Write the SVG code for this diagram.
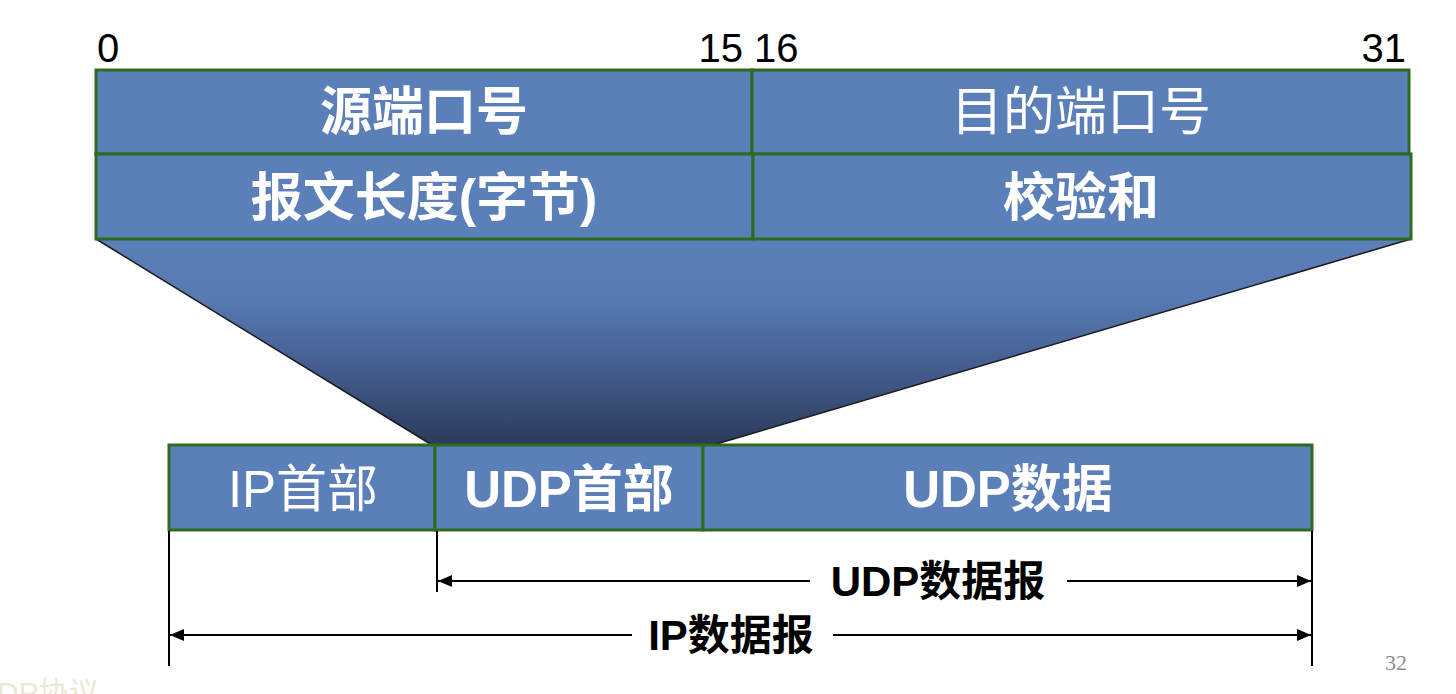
<svg xmlns="http://www.w3.org/2000/svg" width="1456" height="694" viewBox="0 0 1456 694">
<style>
.box{fill:#5b7fb9;stroke:#2f6a1e;stroke-width:3}
.t{font-family:"Liberation Sans","Noto Sans CJK SC",sans-serif;fill:#fff;text-anchor:middle;font-size:52px}
.s{font-size:51px}
.b{font-weight:bold}
.num{font-family:"Liberation Sans",sans-serif;font-size:40px;fill:#000}
.lbl{font-family:"Liberation Sans","Noto Sans CJK SC",sans-serif;font-size:42px;font-weight:bold;fill:#000;text-anchor:middle}
.ln{stroke:#000;stroke-width:2;fill:none}
</style>
<defs>
<linearGradient id="g" x1="0" y1="239" x2="0" y2="445" gradientUnits="userSpaceOnUse">
<stop offset="0" stop-color="#5b7fb9"/>
<stop offset="0.3" stop-color="#5679b1"/>
<stop offset="0.6" stop-color="#465f91"/>
<stop offset="1" stop-color="#2b3a59"/>
</linearGradient>
<marker id="ah" markerWidth="14" markerHeight="12" refX="14" refY="6" orient="auto-start-reverse" markerUnits="userSpaceOnUse">
<path d="M0,0 L14,6 L0,12 Z" fill="#000"/>
</marker>
</defs>

<g id="bit-numbers">
<text class="num" x="97" y="62">0</text>
<text class="num" x="743" y="62" text-anchor="end">15</text>
<text class="num" x="754" y="62">16</text>
<text class="num" x="1406" y="62" text-anchor="end">31</text>
</g>

<g id="expansion">
<polygon points="96,239 1411,239 713,445 432,445" fill="url(#g)"/>
<line x1="96" y1="239" x2="432" y2="445" stroke="#1a1a1a" stroke-width="1.5"/>
<line x1="1411" y1="239" x2="713" y2="445" stroke="#1a1a1a" stroke-width="1.5"/>
</g>

<g id="src-port">
<rect class="box" x="96" y="70" width="656" height="84"/>
<text class="t b" x="424" y="130">源端口号</text>
</g>
<g id="dst-port">
<rect class="box" x="752" y="70" width="657" height="84"/>
<text class="t" x="1081" y="130">目的端口号</text>
</g>
<g id="length">
<rect class="box" x="96" y="154" width="657" height="85"/>
<text class="t b" x="424" y="216">报文长度(字节)</text>
</g>
<g id="checksum">
<rect class="box" x="753" y="154" width="658" height="85"/>
<text class="t b" x="1081" y="216">校验和</text>
</g>

<g id="ip-header">
<rect class="box" x="169" y="445" width="266" height="85"/>
<text class="t s" x="303" y="507">IP首部</text>
</g>
<g id="udp-header">
<rect class="box" x="435" y="445" width="268" height="85"/>
<text class="t s b" x="569" y="507">UDP首部</text>
</g>
<g id="udp-data">
<rect class="box" x="703" y="445" width="609" height="85"/>
<text class="t s b" x="1008" y="507">UDP数据</text>
</g>

<g id="connectors">
<line class="ln" x1="169" y1="531" x2="169" y2="666"/>
<line class="ln" x1="437" y1="531" x2="437" y2="592"/>
<line class="ln" x1="1312" y1="531" x2="1312" y2="666"/>
<line class="ln" x1="810" y1="581" x2="438" y2="581" marker-end="url(#ah)"/>
<line class="ln" x1="1067" y1="581" x2="1311" y2="581" marker-end="url(#ah)"/>
<line class="ln" x1="632" y1="635" x2="170" y2="635" marker-end="url(#ah)"/>
<line class="ln" x1="833" y1="635" x2="1311" y2="635" marker-end="url(#ah)"/>
<text class="lbl" x="938" y="596">UDP数据报</text>
<text class="lbl" x="731" y="650">IP数据报</text>
</g>

<text x="1396" y="670" font-family="Liberation Serif,serif" font-size="22" fill="#8c8c8c" text-anchor="middle">32</text>
<text x="-3" y="703" font-family="Liberation Sans,Noto Sans CJK SC,sans-serif" font-size="30" fill="#ece8d6">DP协议</text>
</svg>
